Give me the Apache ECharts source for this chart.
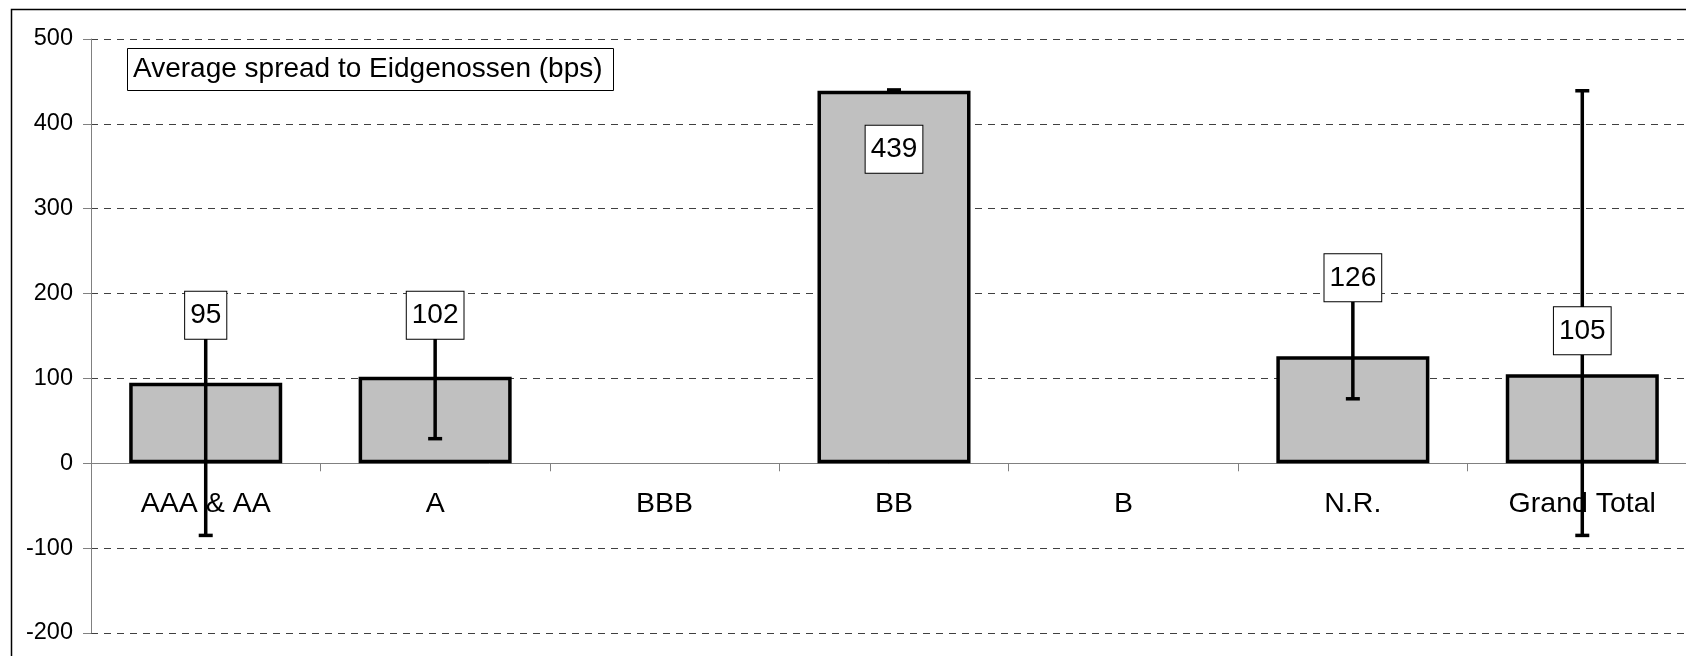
<!DOCTYPE html>
<html>
<head>
<meta charset="utf-8">
<script src="https://cdn.jsdelivr.net/npm/echarts@6/dist/echarts.min.js"></script>
<style>
  html, body { margin: 0; padding: 0; background: #fff; }
  #chart { width: 1686px; height: 656px; }
</style>
</head>
<body>
<div id="chart"></div>
<script>
// ratings buckets and average spread (bps)
const categories = ['AAA & AA', 'A', 'BBB', 'BB', 'B', 'N.R.', 'Grand Total'];
const spread = [95, 102, null, 439, null, 126, 105];
// error bar range (min / max spread per bucket)
const spreadLow = [-85, 29, null, 439, null, 76, -85];
const spreadHigh = [180, 175, null, 440, null, 200, 439];

// label lift in px from the bar top (label boxes were moved by hand)
const labelLift = [-44, -38, 0, 82, 0, -55, -20];

const chart = echarts.init(document.getElementById('chart'));

const errData = categories.map((c, i) => [i, spreadLow[i], spreadHigh[i]]).filter(d => d[1] != null);

chart.setOption({
  animation: false,
  textStyle: { fontFamily: 'Liberation Sans, Arial, sans-serif' },
  grid: { left: 91, top: 39, width: 1606, height: 594, outerBoundsMode: 'none', containLabel: false },
  graphic: [
    { type: 'rect', left: 9, top: 7, z: 0, silent: true,
      shape: { width: 1700, height: 700 },
      style: { fill: 'none', stroke: '#000', lineWidth: 1.5 } },
    { type: 'rect', left: 127, top: 48, z: 10,
      shape: { width: 486, height: 42 },
      style: { fill: '#fff', stroke: '#000', lineWidth: 1 } },
    { type: 'text', left: 133, top: 55, z: 11,
      style: { text: 'Average spread to Eidgenossen (bps)', fill: '#000',
               font: '28px "Liberation Sans", Arial, sans-serif' } }
  ],
  xAxis: [
    {
      type: 'category',
      data: categories,
      axisLine: { onZero: true, lineStyle: { color: '#808080', width: 1 } },
      axisTick: { show: true, length: 8, lineStyle: { color: '#808080' } },
      axisLabel: { show: false },
      splitLine: { show: false }
    },
    {
      // label row, sits just under the zero line
      type: 'category',
      data: categories,
      position: 'bottom',
      offset: -143,
      axisLine: { show: false, onZero: false },
      axisTick: { show: false },
      axisLabel: { color: '#000', fontSize: 28.5, margin: 0, interval: 0 },
      splitLine: { show: false }
    }
  ],
  yAxis: {
    type: 'value',
    min: -200, max: 500, interval: 100,
    axisLine: { show: true, lineStyle: { color: '#808080', width: 1 } },
    axisTick: { show: true, length: 8, lineStyle: { color: '#808080' } },
    axisLabel: { color: '#000', fontSize: 23.5, margin: 18 },
    splitLine: { show: true, lineStyle: { color: '#404040', type: [7, 6], width: 1 } }
  },
  series: [
    {
      type: 'bar',
      data: spread,
      barWidth: '66.7%',
      z: 2,
      itemStyle: { color: '#c0c0c0', borderColor: '#000', borderWidth: 3.5 }
    },
    {
      type: 'custom',
      z: 3,
      data: errData,
      renderItem: function (params, api) {
        const lo = api.coord([api.value(0), api.value(1)]);
        const hi = api.coord([api.value(0), api.value(2)]);
        const cap = 7;
        const st = { stroke: '#000', lineWidth: 3.5 };
        return {
          type: 'group',
          children: [
            { type: 'line', shape: { x1: lo[0], y1: lo[1], x2: hi[0], y2: hi[1] }, style: st },
            { type: 'line', shape: { x1: lo[0] - cap, y1: lo[1], x2: lo[0] + cap, y2: lo[1] }, style: st },
            { type: 'line', shape: { x1: hi[0] - cap, y1: hi[1], x2: hi[0] + cap, y2: hi[1] }, style: st }
          ]
        };
      }
    },
    {
      type: 'bar',
      barGap: '-100%',
      barWidth: '66.7%',
      z: 4,
      itemStyle: { color: 'transparent' },
      data: spread.map((v, i) => v == null ? null : {
        value: v,
        label: { offset: [0, labelLift[i]] }
      }),
      label: {
        show: true,
        position: 'top',
        distance: 0,
        color: '#000',
        fontSize: 28,
        backgroundColor: '#fff',
        borderColor: '#000',
        borderWidth: 1,
        padding: [10, 5, 9, 5]
      }
    }
  ]
});
</script>
</body>
</html>
